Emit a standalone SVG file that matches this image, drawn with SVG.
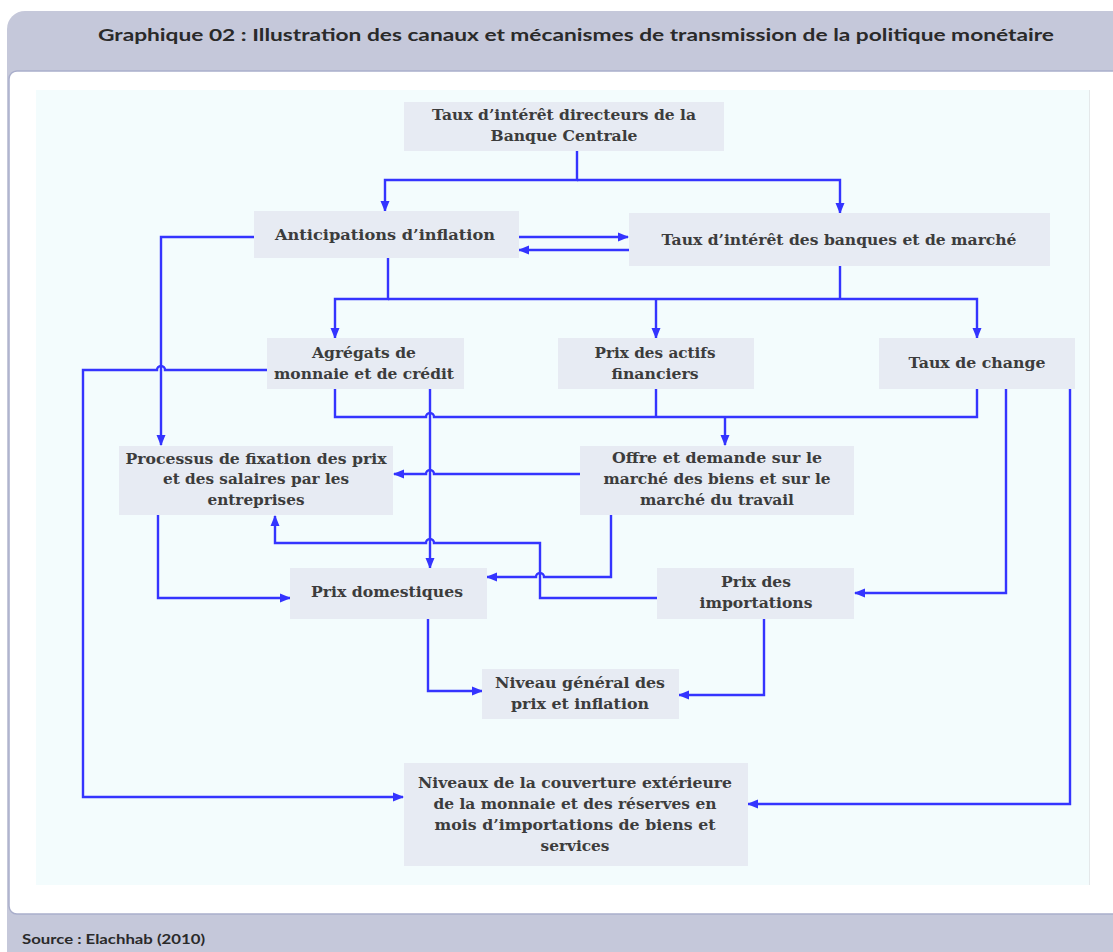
<svg xmlns="http://www.w3.org/2000/svg" width="1113" height="952" viewBox="0 0 1113 952">
<defs>
<marker id="ah" markerUnits="userSpaceOnUse" markerWidth="11" markerHeight="10" refX="10" refY="5" orient="auto">
<path d="M0,0.5 L11,5 L0,9.5 z" fill="#3434ff"/>
</marker>
<style>
.frame{fill:#c5c8da}
.panel{fill:#ffffff;stroke:#a9aecb;stroke-width:1.5}
.bg{fill:#f3fcfd}
.edge{stroke:#e4e8ea;stroke-width:1}
.box{fill:#e7ebf3}
.t{font-family:"DejaVu Serif","Liberation Serif",serif;font-weight:bold;font-size:15px;fill:#3c3c3c;text-anchor:middle}
.h{font-family:Lato,"Open Sans","Liberation Sans",sans-serif;font-weight:bold;fill:#2a2a2a}
.c{fill:none;stroke:#3434ff;stroke-width:2.4;stroke-linejoin:miter}
.a{marker-end:url(#ah)}
</style>
</defs>
<rect class="frame" x="7" y="11" width="1130" height="960" rx="18"/>
<rect class="panel" x="9" y="71" width="1124" height="843" rx="8"/>
<rect class="bg" x="36" y="90" width="1053" height="795"/>
<line class="edge" x1="1089.5" y1="90" x2="1089.5" y2="885"/>
<text class="h" x="576" y="41" font-size="17.5" text-anchor="middle" textLength="956" lengthAdjust="spacingAndGlyphs">Graphique 02 : Illustration des canaux et mécanismes de transmission de la politique monétaire</text>
<text class="h" x="22" y="944" font-size="14" textLength="183" lengthAdjust="spacingAndGlyphs">Source : Elachhab (2010)</text>

<g id="connectors">
<path class="c a" d="M577,151 V180 H385 V211"/>
<path class="c a" d="M577,180 H840 V213"/>
<path class="c a" d="M519,237 H628"/>
<path class="c a" d="M629,250 H519"/>
<path class="c a" d="M254,237 H161 V445"/>
<path class="c a" d="M388,258 V299 H335 V338"/>
<path class="c a" d="M388,299 H977 V338"/>
<path class="c a" d="M656,299 V338"/>
<path class="c" d="M840,266 V299"/>
<path class="c a" d="M267,370 H165 a4,4 0 0 0 -8,0 H83 V797 H403"/>
<path class="c" d="M335,389 V417 H426 a4,4 0 0 1 8,0 H977 V389"/>
<path class="c" d="M656,389 V417"/>
<path class="c a" d="M725,417 V445"/>
<path class="c a" d="M430,389 V568"/>
<path class="c a" d="M580,474 H434 a4,4 0 0 0 -8,0 H394"/>
<path class="c a" d="M611,515 V577 H544 a4,4 0 0 0 -8,0 H487"/>
<path class="c a" d="M657,598 H540 V543 H434 a4,4 0 0 0 -8,0 H275 V516"/>
<path class="c a" d="M158,515 V598 H290"/>
<path class="c a" d="M1006,389 V593 H855"/>
<path class="c a" d="M1070,389 V804 H748"/>
<path class="c a" d="M428,619 V691 H482"/>
<path class="c a" d="M764,619 V695 H679"/>
</g>

<g id="n-taux-directeurs">
<rect class="box" x="404" y="102" width="320" height="49"/>
<text class="t" x="564" y="120" textLength="264" lengthAdjust="spacingAndGlyphs">Taux d’intérêt directeurs de la</text>
<text class="t" x="564" y="141" textLength="147" lengthAdjust="spacingAndGlyphs">Banque Centrale</text>
</g>
<g id="n-anticipations">
<rect class="box" x="254" y="211" width="265" height="47"/>
<text class="t" x="385" y="240" textLength="220" lengthAdjust="spacingAndGlyphs">Anticipations d’inflation</text>
</g>
<g id="n-taux-banques">
<rect class="box" x="629" y="213" width="421" height="53"/>
<text class="t" x="839" y="245" textLength="355" lengthAdjust="spacingAndGlyphs">Taux d’intérêt des banques et de marché</text>
</g>
<g id="n-agregats">
<rect class="box" x="267" y="338" width="197" height="51"/>
<text class="t" x="364" y="358" textLength="104" lengthAdjust="spacingAndGlyphs">Agrégats de</text>
<text class="t" x="364" y="379" textLength="180" lengthAdjust="spacingAndGlyphs">monnaie et de crédit</text>
</g>
<g id="n-actifs">
<rect class="box" x="558" y="338" width="196" height="51"/>
<text class="t" x="655" y="358" textLength="121" lengthAdjust="spacingAndGlyphs">Prix des actifs</text>
<text class="t" x="655" y="379" textLength="87" lengthAdjust="spacingAndGlyphs">financiers</text>
</g>
<g id="n-change">
<rect class="box" x="879" y="338" width="196" height="51"/>
<text class="t" x="977" y="368" textLength="137" lengthAdjust="spacingAndGlyphs">Taux de change</text>
</g>
<g id="n-processus">
<rect class="box" x="119" y="446" width="274" height="69"/>
<text class="t" x="256" y="464" textLength="261" lengthAdjust="spacingAndGlyphs">Processus de fixation des prix</text>
<text class="t" x="256" y="484" textLength="186" lengthAdjust="spacingAndGlyphs">et des salaires par les</text>
<text class="t" x="256" y="505" textLength="97" lengthAdjust="spacingAndGlyphs">entreprises</text>
</g>
<g id="n-offre">
<rect class="box" x="580" y="446" width="274" height="69"/>
<text class="t" x="717" y="463" textLength="210" lengthAdjust="spacingAndGlyphs">Offre et demande sur le</text>
<text class="t" x="717" y="484" textLength="227" lengthAdjust="spacingAndGlyphs">marché des biens et sur le</text>
<text class="t" x="717" y="505" textLength="154" lengthAdjust="spacingAndGlyphs">marché du travail</text>
</g>
<g id="n-prix-domestiques">
<rect class="box" x="290" y="568" width="197" height="51"/>
<text class="t" x="387" y="597" textLength="152" lengthAdjust="spacingAndGlyphs">Prix domestiques</text>
</g>
<g id="n-prix-importations">
<rect class="box" x="657" y="568" width="197" height="51"/>
<text class="t" x="756" y="587" textLength="70" lengthAdjust="spacingAndGlyphs">Prix des</text>
<text class="t" x="756" y="608" textLength="113" lengthAdjust="spacingAndGlyphs">importations</text>
</g>
<g id="n-niveau-general">
<rect class="box" x="482" y="669" width="197" height="50"/>
<text class="t" x="580" y="688" textLength="170" lengthAdjust="spacingAndGlyphs">Niveau général des</text>
<text class="t" x="580" y="709" textLength="138" lengthAdjust="spacingAndGlyphs">prix et inflation</text>
</g>
<g id="n-couverture">
<rect class="box" x="404" y="763" width="344" height="103"/>
<text class="t" x="575" y="788" textLength="314" lengthAdjust="spacingAndGlyphs">Niveaux de la couverture extérieure</text>
<text class="t" x="575" y="809" textLength="283" lengthAdjust="spacingAndGlyphs">de la monnaie et des réserves en</text>
<text class="t" x="575" y="830" textLength="281" lengthAdjust="spacingAndGlyphs">mois d’importations de biens et</text>
<text class="t" x="575" y="851" textLength="69" lengthAdjust="spacingAndGlyphs">services</text>
</g>
</svg>
